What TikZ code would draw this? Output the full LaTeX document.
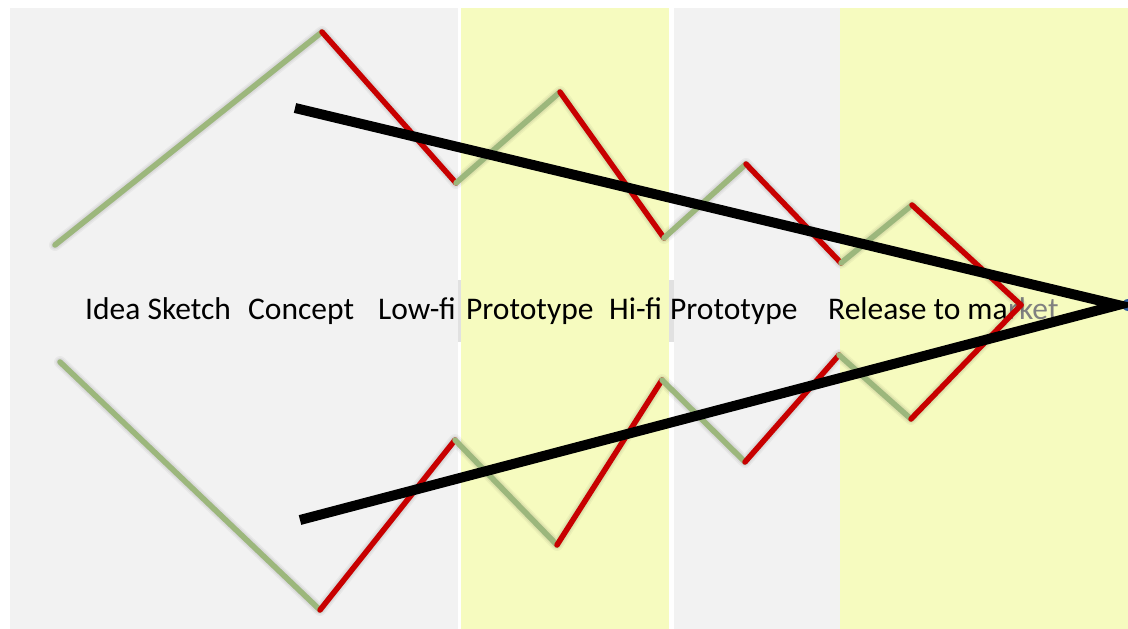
\documentclass[tikz,border=0pt]{standalone}
\usepackage{fontspec}
\setmainfont{Carlito}
\begin{document}
\definecolor{bggray}{RGB}{242,242,242}
\definecolor{bgyellow}{RGB}{246,251,191}
\definecolor{gapgray}{RGB}{225,225,225}
\definecolor{zgreen}{RGB}{156,183,124}
\definecolor{zred}{RGB}{200,0,0}
\definecolor{dotblue}{RGB}{46,92,158}
\begin{tikzpicture}[x=1pt,y=-1pt,
  panel/.style={fill=#1,draw=none},
  shade/.style={draw=black,line width=9pt,opacity=0.06,line cap=round,line join=round},
  greenseg/.style={draw=zgreen,line width=5.5pt,line cap=round},
  redseg/.style={draw=zred,line width=5.5pt,line cap=round},
  funnel/.style={draw=black,line width=10pt},
  label/.style={anchor=base west,inner sep=0pt,font=\fontsize{31.5}{36}\selectfont}]
\useasboundingbox (0,0) rectangle (1128,629);
\fill[white] (0,0) rectangle (1128,629);
% stage panels
\fill[panel=bggray]   (10,8)  rectangle (458,629);
\fill[panel=bgyellow] (461,8) rectangle (669,629);
\fill[panel=bggray]   (674,8) rectangle (840,629);
\fill[panel=bgyellow] (840,8) rectangle (1128,629);
% label strip across the panel gaps
\fill[gapgray] (458,280) rectangle (461,342);
\fill[gapgray] (669,280) rectangle (674,342);
% zigzag vertices, upper chain
\coordinate (t0) at (55,245);
\coordinate (t1) at (322,32);
\coordinate (t2) at (456,183);
\coordinate (t3) at (560,92);
\coordinate (t4) at (664,238);
\coordinate (t5) at (746,164);
\coordinate (t6) at (841,263);
\coordinate (t7) at (912,205);
\coordinate (m)  at (1021,305);
% zigzag vertices, lower chain
\coordinate (b0) at (60,362);
\coordinate (b1) at (320,610);
\coordinate (b2) at (455,440);
\coordinate (b3) at (557,545);
\coordinate (b4) at (662,380);
\coordinate (b5) at (745,462);
\coordinate (b6) at (839,355);
\coordinate (b7) at (911,419);
% stage labels
\node[label] (l1) at (85,319) {Idea Sketch};
\node[label] (l2) at (248,319) {Concept};
\node[label] (l3) at (378,319) {Low-fi};
\node[label] (l4) at (466,319) {Prototype};
\node[label] (l5) at (609,319) {Hi-fi};
\node[label] (l6) at (670,319) {Prototype};
\node[label] (l7) at (828,319) {Release to ma};
\node[label,text=gray,anchor=base west] (l8) at (l7.base east) {rket};
% soft shadows under the zigzags
\foreach \w/\o in {12/0.04,9/0.05,6/0.06}{
  \draw[shade,line width=\w pt,opacity=\o,shift={(3,4)}]
    (t0)--(t1)--(t2)--(t3)--(t4)--(t5)--(t6)--(t7)--(m)--(b7)--(b6)--(b5)--(b4)--(b3)--(b2)--(b1)--(b0);
}
% zigzags
\draw[greenseg] (t0)--(t1);
\draw[redseg]   (t1)--(t2);
\draw[greenseg] (t2)--(t3);
\draw[redseg]   (t3)--(t4);
\draw[greenseg] (t4)--(t5);
\draw[redseg]   (t5)--(t6);
\draw[greenseg] (t6)--(t7);
\draw[redseg]   (t7)--(m);
\draw[greenseg] (b0)--(b1);
\draw[redseg]   (b1)--(b2);
\draw[greenseg] (b2)--(b3);
\draw[redseg]   (b3)--(b4);
\draw[greenseg] (b4)--(b5);
\draw[redseg]   (b5)--(b6);
\draw[greenseg] (b6)--(b7);
\draw[redseg]   (b7)--(m);
% converging funnel
\coordinate (fa) at (295,108);
\coordinate (fb) at (300,520);
\coordinate (tip) at (1118,305);
\node[circle,fill=dotblue,minimum size=12pt,inner sep=0pt] (dot) at (1128,305) {};
\draw[funnel] (fa)--(tip)--(fb);
\end{tikzpicture}
\end{document}
